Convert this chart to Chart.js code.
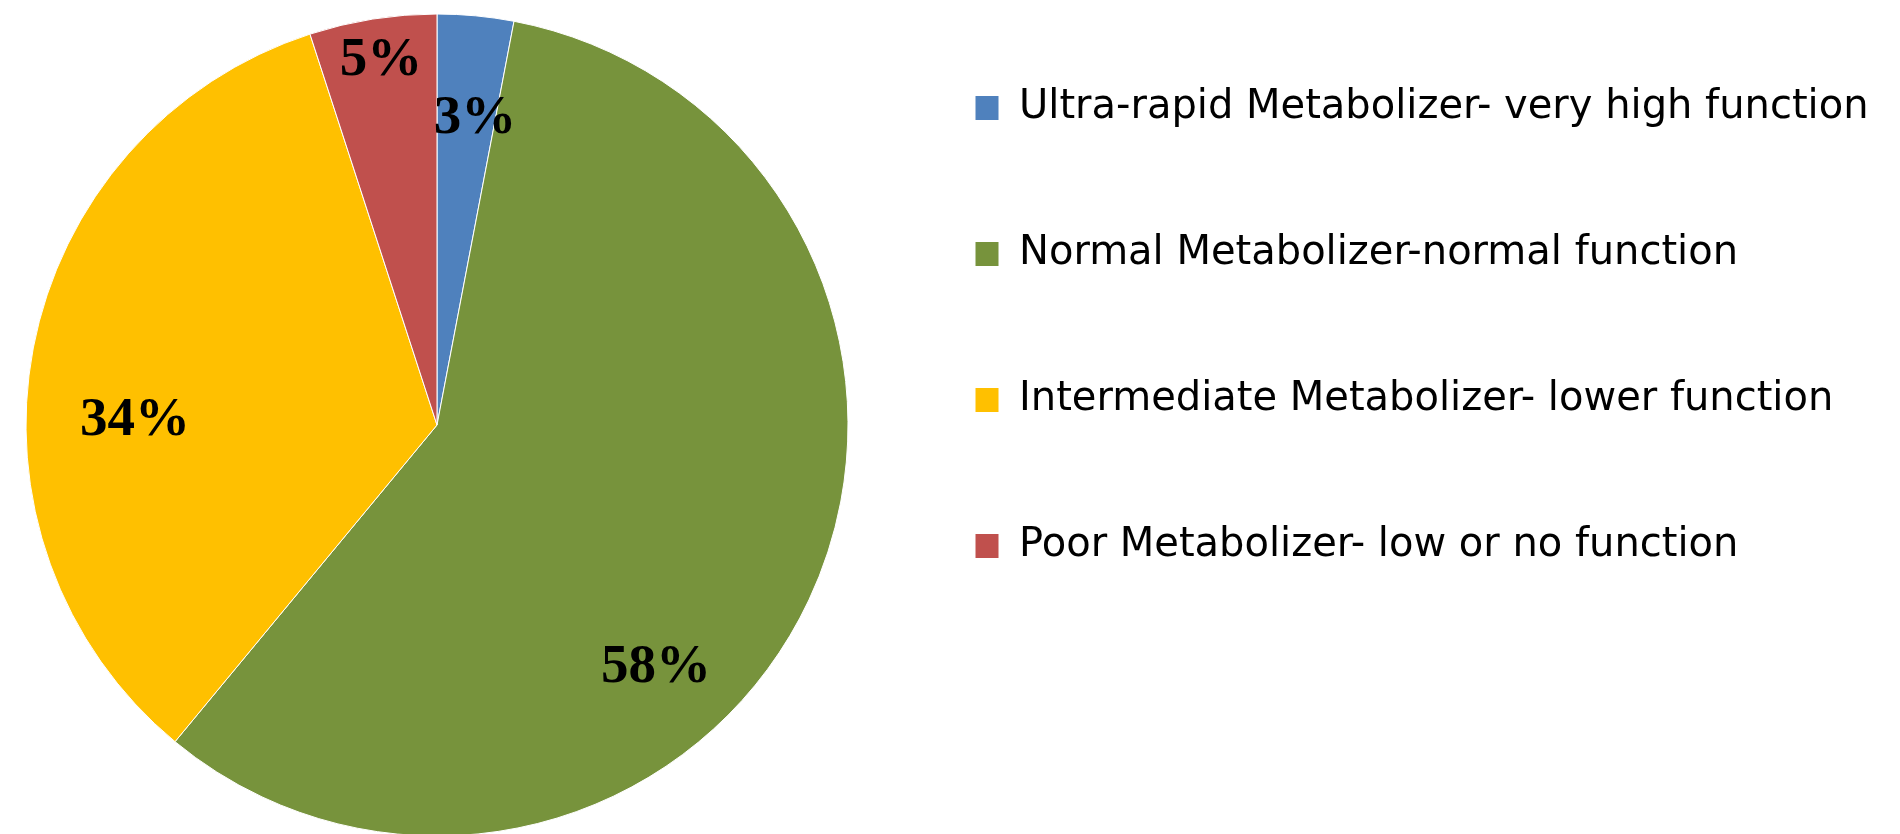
<!DOCTYPE html>
<html>
<head>
<meta charset="utf-8">
<script src="https://cdn.jsdelivr.net/npm/chart.js@4.4.1/dist/chart.umd.min.js"></script>
<style>
    html, body { margin: 0; padding: 0; background: #fff; overflow: hidden; }
    #wrap { width: 1900px; height: 834px; overflow: hidden; position: relative; }
    #metabolizerPie { position: absolute; left: 0; top: -18px; }
</style>
</head>
<body>
<div id="wrap"><canvas id="metabolizerPie" width="1900" height="886"></canvas></div>
<script>
// categories and shares (percent)
const categories = [
    'Ultra-rapid Metabolizer- very high function',
    'Normal Metabolizer-normal function',
    'Intermediate Metabolizer- lower function',
    'Poor Metabolizer- low or no function'
]
const shares = [3, 58, 34, 5]
const sliceColors = ['#4F81BD', '#77933C', '#FFC000', '#C0504D']

// where each percent label sits inside its slice (fraction of angle, fraction of radius)
const labelAngleFrac = [0.655, 0.609, 0.418, 0.514]
const labelRadiusFrac = [0.75, 0.796, 0.735, 0.896]

const legendFontSize = 40
const legendFamily = '"DejaVu Sans", sans-serif'
const legendPad = 106
const legendBox = 24

// legend sits to the right; work out how much room it needs so it starts at x = 869
const measureCtx = document.createElement('canvas').getContext('2d')
measureCtx.font = legendFontSize + 'px ' + legendFamily
const longest = Math.max(...categories.map(c => measureCtx.measureText(c).width))
const legendWidth = legendPad + legendBox + legendFontSize / 2 + longest + 10
const rightPad = Math.max(0, 1900 - 869 - legendWidth)

const sliceLabels = {
    id: 'sliceLabels',
    afterDatasetsDraw(chart) {
        const ctx = chart.ctx
        const meta = chart.getDatasetMeta(0)
        ctx.save()
        ctx.font = 'bold 55px "Liberation Serif", "Times New Roman", serif'
        ctx.fillStyle = '#000'
        ctx.textAlign = 'center'
        ctx.textBaseline = 'middle'
        meta.data.forEach((arc, i) => {
            const p = arc.getProps(['x', 'y', 'startAngle', 'endAngle', 'outerRadius'], true)
            const a = p.startAngle + labelAngleFrac[i] * (p.endAngle - p.startAngle)
            const r = labelRadiusFrac[i] * p.outerRadius
            ctx.fillText(shares[i] + '%', p.x + Math.cos(a) * r, p.y + Math.sin(a) * r)
        })
        ctx.restore()
    }
}

new Chart(document.getElementById('metabolizerPie'), {
    type: 'pie',
    data: {
        labels: categories,
        datasets: [
            {
                data: shares,
                backgroundColor: sliceColors,
                borderColor: '#ffffff',
                borderWidth: 1,
                radius: 411,
                clip: false,
                hoverOffset: 0
            }
        ]
    },
    options: {
        responsive: false,
        animation: false,
        devicePixelRatio: 1,
        layout: {
            padding: { left: 5, right: rightPad, top: 0, bottom: 0 }
        },
        plugins: {
            tooltip: { enabled: false },
            legend: {
                position: 'right',
                align: 'start',
                maxWidth: 1400,
                labels: {
                    boxWidth: legendBox,
                    boxHeight: 25,
                    padding: legendPad,
                    color: '#000',
                    font: { family: legendFamily, size: legendFontSize }
                }
            }
        }
    },
    plugins: [sliceLabels]
})
</script>
</body>
</html>
